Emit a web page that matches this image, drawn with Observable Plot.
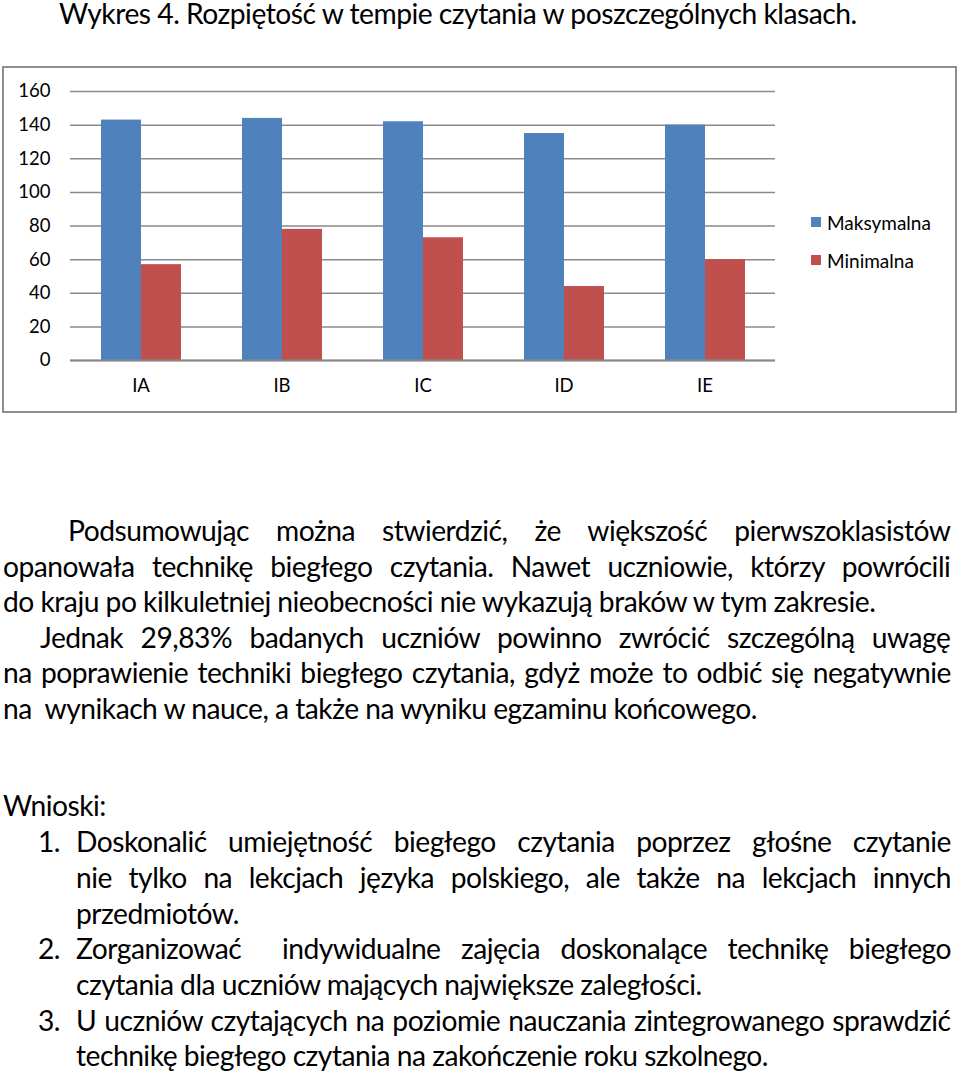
<!DOCTYPE html>
<html>
<head>
<meta charset="utf-8">
<script src="https://cdn.jsdelivr.net/npm/d3@7"></script>
<script src="https://cdn.jsdelivr.net/npm/@observablehq/plot@0.6"></script>
<style>
  html, body { margin: 0; padding: 0; background: #fff; }
  body { font-family: Lato, "Open Sans", sans-serif; color: #000; }
  #page { position: relative; width: 960px; height: 1077px; overflow: hidden; }
  .ln { position: absolute; white-space: pre; margin: 0; }
  #frame { position: absolute; left: 2px; top: 66px; width: 951px; height: 343px; border: 2px solid #8e8e8e; background: #fff; }
  #chart { position: absolute; left: 0; top: 0; }
  .leg { position: absolute; font-size: 19px; line-height: 23px; white-space: nowrap; }
  .sw { position: absolute; width: 10px; height: 10px; }
</style>
</head>
<body>
<div id="page">
  <div id="frame"><div id="chart"></div></div>
</div>
<script>
// ---- chart data ----
const klasy = ["IA", "IB", "IC", "ID", "IE"];
const serie = ["Maksymalna", "Minimalna"];
const maksymalna = [143, 144, 142, 135, 140];
const minimalna = [57, 78, 73, 44, 60];
const kolory = ["#4F81BD", "#C0504D"];
const yTicks = [0, 20, 40, 60, 80, 100, 120, 140, 160];

const tytul = "Wykres 4. Rozpiętość w tempie czytania w poszczególnych klasach.";

const rows = [];
klasy.forEach((k, i) => {
  rows.push({klasa: k, seria: serie[0], wartosc: maksymalna[i]});
  rows.push({klasa: k, seria: serie[1], wartosc: minimalna[i]});
});

const chart = Plot.plot({
  width: 951,
  height: 343,
  marginLeft: 64,
  marginRight: 179,
  marginTop: 23,
  marginBottom: 51,
  style: {fontFamily: "Lato, sans-serif", fontSize: "18.5px", color: "#000", background: "transparent", overflow: "visible"},
  fx: {domain: klasy, padding: 0, label: null, axis: "bottom", tickSize: 0, tickPadding: 18},
  x: {domain: serie, paddingInner: 0, paddingOuter: 0.75, axis: null},
  y: {domain: [0, 160], axis: null},
  color: {domain: serie, range: kolory},
  marks: [
    Plot.ruleY(yTicks, {stroke: "#8a8a8a", strokeWidth: 1.5}),
    Plot.barY(rows, {fx: "klasa", x: "seria", y: "wartosc", fill: "seria"}),
    Plot.ruleY([0], {stroke: "#8a8a8a", strokeWidth: 2}),
    Plot.axisY({ticks: yTicks, tickSize: 0, tickPadding: 20, label: null, line: true, stroke: "#8a8a8a", strokeWidth: 1.5, fill: "#000"})
  ]
});
document.getElementById("chart").appendChild(chart);

// legend (HTML, colours from the same arrays)
const frame = document.getElementById("frame");
const legTop = [217, 255];
serie.forEach((s, i) => {
  const sw = document.createElement("div");
  sw.className = "sw";
  sw.style.background = kolory[i];
  sw.style.left = (811 - 4) + "px";
  sw.style.top = (legTop[i] - 68) + "px";
  frame.appendChild(sw);
  const t = document.createElement("div");
  t.className = "leg";
  t.textContent = s;
  t.style.left = (827 - 4) + "px";
  t.style.top = (legTop[i] - 68 - 6) + "px";
  frame.appendChild(t);
});

// ---- text ----
const RIGHT = 951;
const LS = -0.5; // letter spacing, px
const lines = [
  {t: "Podsumowując można stwierdzić, że większość pierwszoklasistów", x: 68, b: 542, j: true},
  {t: "opanowała technikę biegłego czytania. Nawet uczniowie, którzy powrócili", x: 3, b: 577.5, j: true},
  {t: "do kraju po kilkuletniej nieobecności nie wykazują braków w tym zakresie.", x: 3, b: 613, j: false},
  {t: "Jednak 29,83% badanych uczniów powinno zwrócić szczególną uwagę", x: 40, b: 648.5, j: true},
  {t: "na poprawienie techniki biegłego czytania, gdyż może to odbić się negatywnie", x: 3, b: 684, j: true},
  {t: "na  wynikach w nauce, a także na wyniku egzaminu końcowego.", x: 3, b: 719.5, j: false},
  {t: "Wnioski:", x: 3, b: 817, j: false},
  {t: "1.", x: 38, b: 853, j: false},
  {t: "Doskonalić umiejętność biegłego czytania poprzez głośne czytanie", x: 76, b: 853, j: true},
  {t: "nie tylko na lekcjach języka polskiego, ale także na lekcjach innych", x: 76, b: 889, j: true},
  {t: "przedmiotów.", x: 76, b: 924.5, j: false},
  {t: "2.", x: 38, b: 960, j: false},
  {t: "Zorganizować  indywidualne zajęcia doskonalące technikę biegłego", x: 76, b: 960, j: true},
  {t: "czytania dla uczniów mających największe zaległości.", x: 76, b: 996, j: false},
  {t: "3.", x: 38, b: 1031.5, j: false},
  {t: "U uczniów czytających na poziomie nauczania zintegrowanego sprawdzić", x: 76, b: 1031.5, j: true},
  {t: "technikę biegłego czytania na zakończenie roku szkolnego.", x: 76, b: 1067, j: false}
];

const ctx = document.createElement("canvas").getContext("2d");
const FAM = "Lato";
function meas(t, s) { ctx.font = s + "px " + FAM; return ctx.measureText(t).width + LS * [...t].length; }
function fitSize(t, target) {
  let lo = 5, hi = 60;
  for (let k = 0; k < 40; k++) { const m = (lo + hi) / 2; if (meas(t, m) > target) hi = m; else lo = m; }
  return lo;
}

let size = fitSize(lines[2].t, 875);
lines.forEach(l => { if (l.j) size = Math.min(size, fitSize(l.t, RIGHT - l.x)); });

const ASC = 0.987;
const page = document.getElementById("page");
function addLine(text, x, baseline, s, ws) {
  const d = document.createElement("div");
  d.className = "ln";
  d.textContent = text;
  d.style.fontSize = s + "px";
  d.style.lineHeight = (1.2 * s) + "px";
  d.style.letterSpacing = LS + "px";
  d.style.left = x + "px";
  d.style.top = (baseline - ASC * s) + "px";
  if (ws) d.style.wordSpacing = ws + "px";
  page.appendChild(d);
}
lines.forEach(l => {
  let ws = 0;
  if (l.j) {
    const w = meas(l.t, size);
    const n = (l.t.match(/ /g) || []).length;
    ws = (RIGHT - l.x - w) / n;
  }
  addLine(l.t, l.x, l.b, size, ws);
});
const tSize = fitSize(tytul, 800);
addLine(tytul, 59, 25, tSize, 0);
</script>
</body>
</html>
